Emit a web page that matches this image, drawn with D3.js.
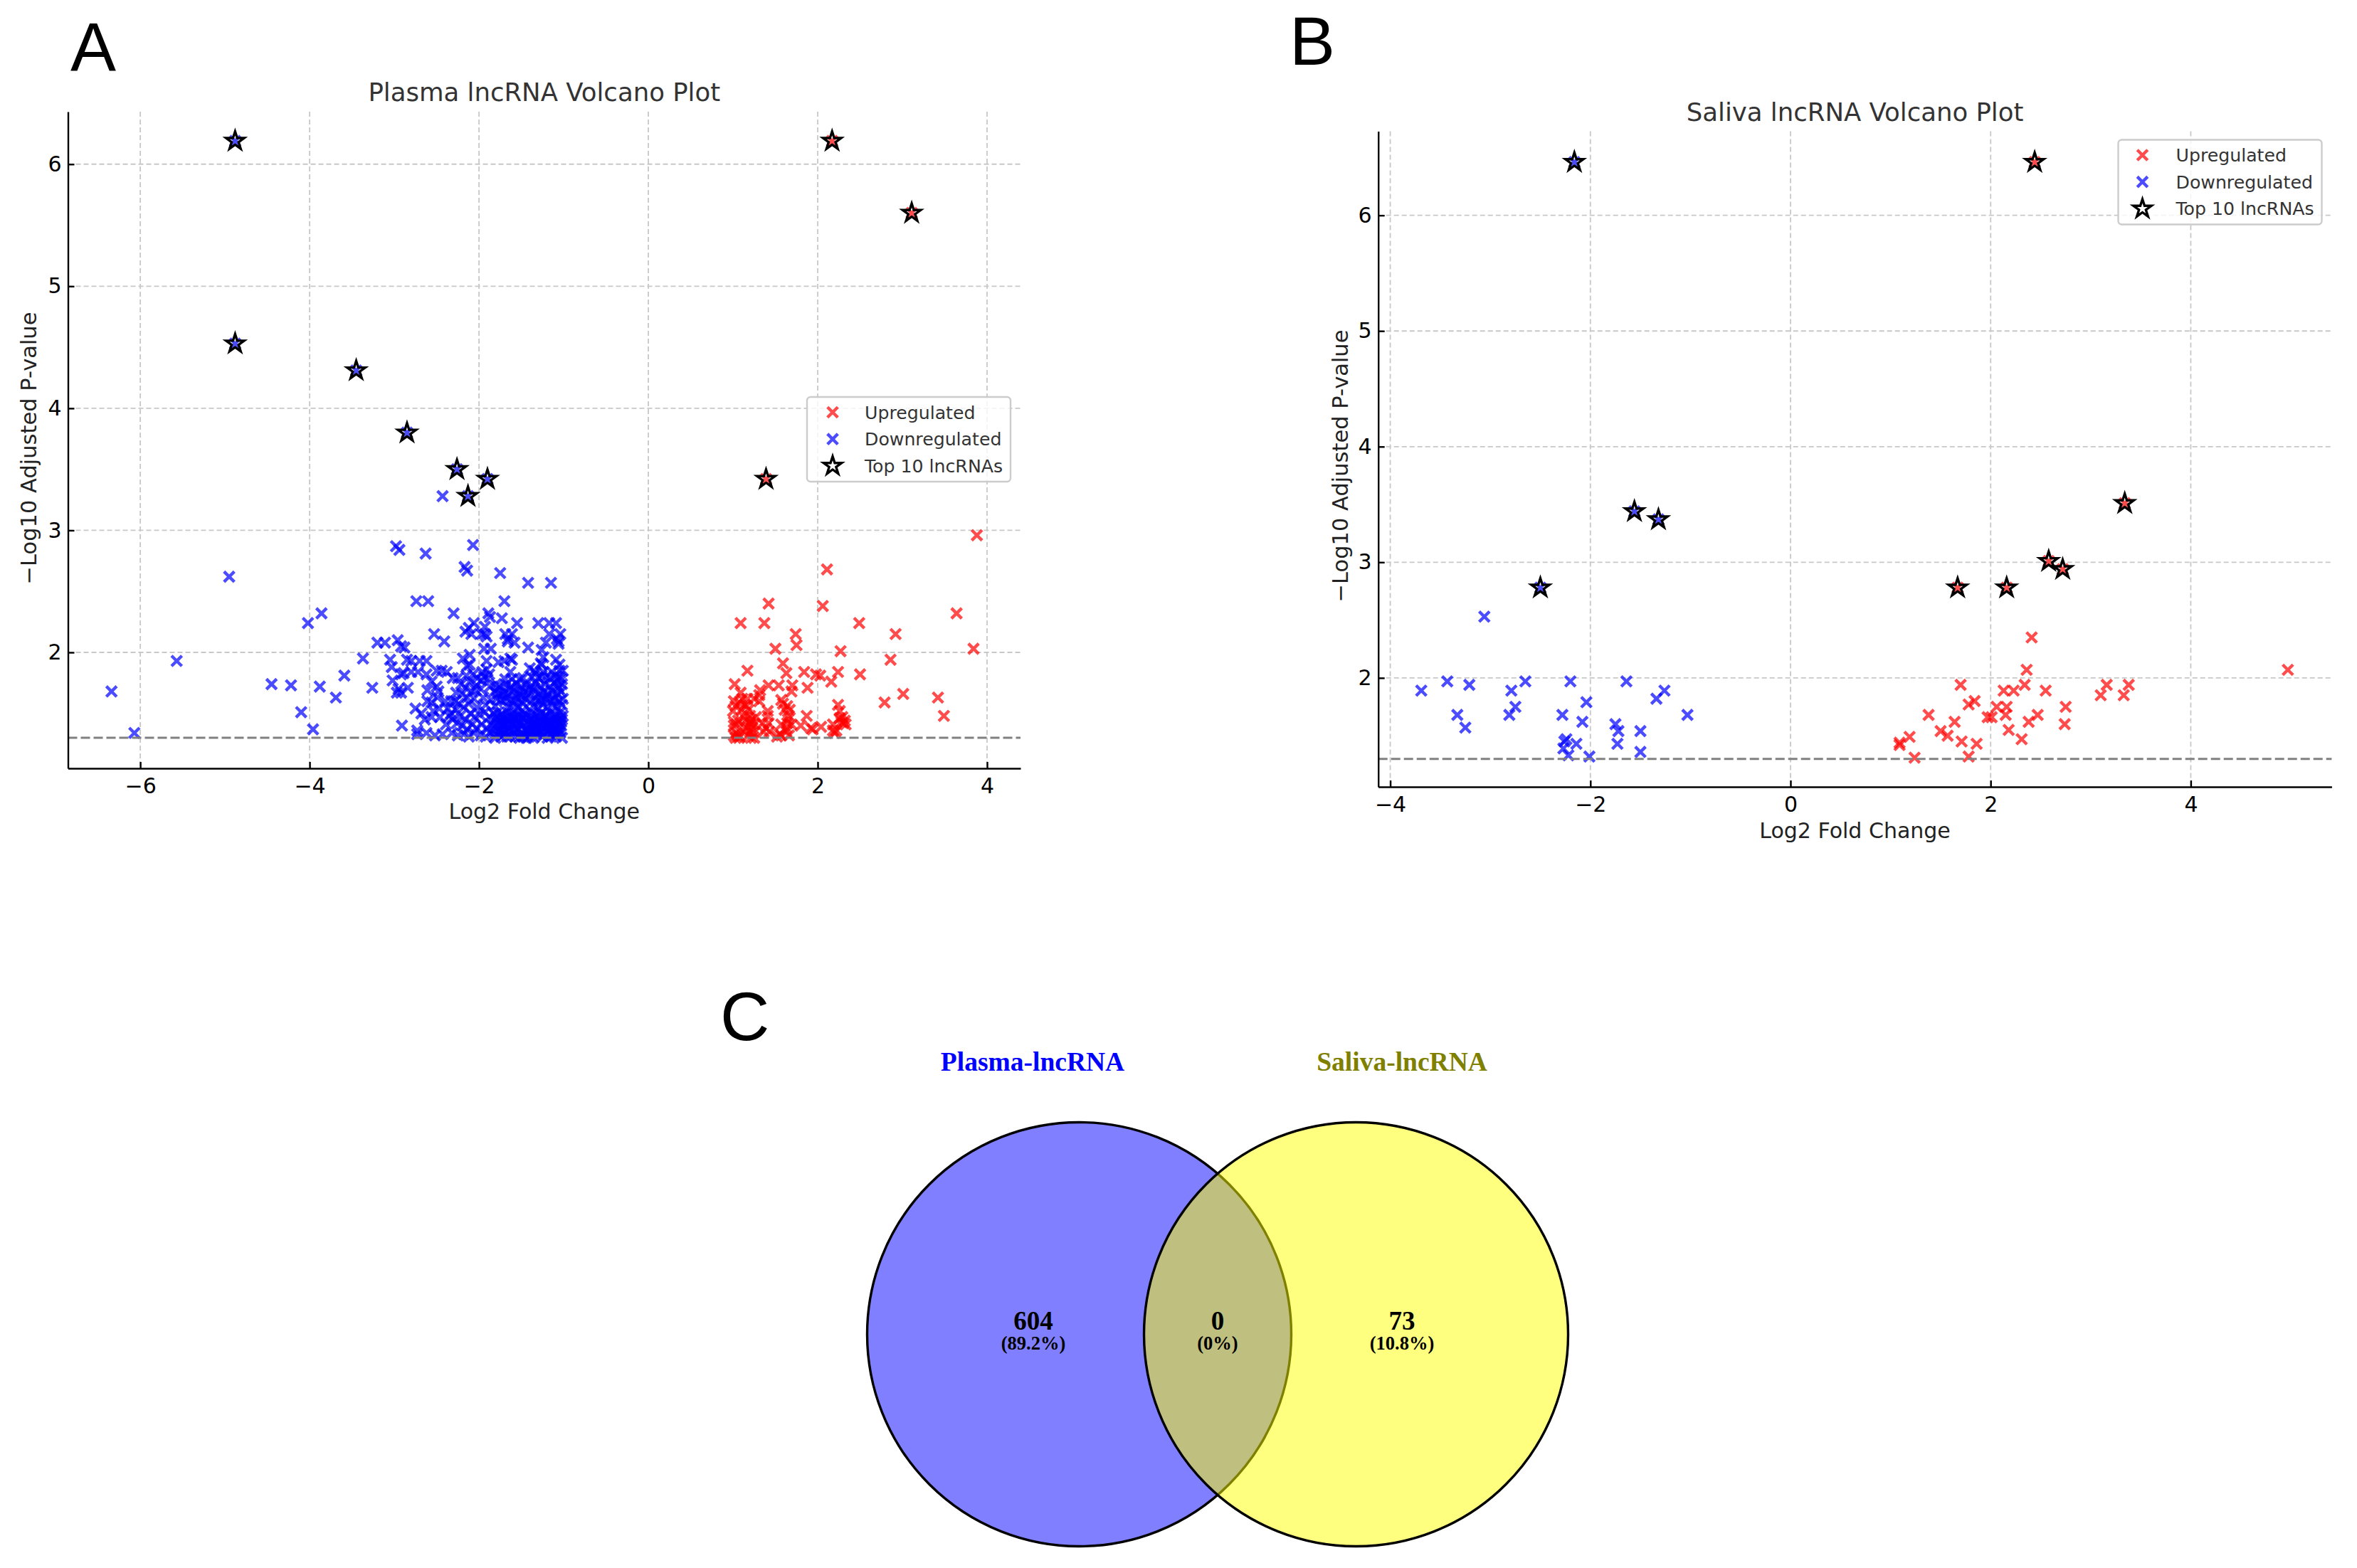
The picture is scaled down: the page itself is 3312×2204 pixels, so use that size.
<!DOCTYPE html>
<html>
<head>
<meta charset="utf-8">
<title>lncRNA volcano plots</title>
<script src="https://cdn.jsdelivr.net/npm/d3@7/dist/d3.min.js"></script>
<style>
body { margin: 0; background: #fff; }
svg { display: block; }
text { font-family: "DejaVu Sans", sans-serif; }
</style>
</head>
<body>
<svg id="fig" width="3312" height="2204"></svg>
<script>
/*globals d3*/

// [log2 fold change, -log10 adjusted p]
var plasmaUp = [
    [3.88, 2.96], [2.11, 2.68], [1.42, 2.40], [2.06, 2.38], [3.64, 2.32], [1.09, 2.24], [1.37, 2.24], [2.49, 2.24],
    [1.74, 2.15], [2.92, 2.15], [1.75, 2.06], [1.50, 2.03], [3.84, 2.03], [2.27, 2.01], [2.86, 1.94], [1.59, 1.91],
    [1.17, 1.85], [1.63, 1.83], [1.84, 1.84], [1.98, 1.82], [2.03, 1.81], [2.24, 1.84], [2.50, 1.82], [2.16, 1.76],
    [1.02, 1.74], [1.42, 1.73], [1.54, 1.73], [1.70, 1.73], [1.88, 1.71], [1.69, 1.68], [3.01, 1.66], [3.42, 1.63],
    [2.79, 1.59], [3.49, 1.48], [1.09, 1.67], [1.32, 1.69], [1.31, 1.65], [1.25, 1.62], [1.31, 1.60], [1.01, 1.60],
    [1.11, 1.62], [1.17, 1.62], [1.07, 1.59], [1.14, 1.57], [1.57, 1.61], [1.59, 1.58], [2.24, 1.57], [1.00, 1.52],
    [1.10, 1.53], [1.18, 1.53], [1.20, 1.48], [1.41, 1.52], [1.61, 1.53], [1.67, 1.53], [2.26, 1.52], [1.41, 1.48],
    [1.66, 1.48], [1.87, 1.48], [2.29, 1.47], [1.27, 1.47], [1.01, 1.43], [1.04, 1.41], [1.01, 1.40], [1.15, 1.44],
    [1.20, 1.43], [1.21, 1.41], [1.25, 1.41], [1.17, 1.39], [1.35, 1.42], [1.42, 1.42], [1.39, 1.38], [1.36, 1.35],
    [1.43, 1.35], [1.57, 1.41], [1.64, 1.42], [1.69, 1.41], [1.63, 1.38], [1.63, 1.35], [1.80, 1.40], [1.92, 1.38],
    [1.94, 1.37], [2.04, 1.39], [2.18, 1.41], [2.32, 1.44], [2.30, 1.42], [2.28, 1.43], [2.26, 1.46], [2.33, 1.41],
    [2.18, 1.36], [2.22, 1.36], [2.20, 1.34], [1.04, 1.34], [1.01, 1.32], [1.07, 1.30], [1.03, 1.30], [1.08, 1.31],
    [1.06, 1.32], [1.20, 1.35], [1.24, 1.34], [1.18, 1.32], [1.25, 1.30], [1.21, 1.30], [1.52, 1.31], [1.57, 1.32],
    [1.66, 1.32], [1.55, 1.33], [1.13, 1.47], [1.22, 1.45], [1.14, 1.38], [1.23, 1.38],
    [1.06, 1.44], [1.16, 1.56], [1.03, 1.56], [1.65, 1.45], [1.64, 1.56]
];
var plasmaDown = [
    // outliers on the left
    [-4.95, 2.62], [-5.57, 1.93], [-6.34, 1.68], [-6.07, 1.34], [-4.45, 1.74], [-4.22, 1.73], [-3.88, 1.72],
    [-4.02, 2.24], [-3.86, 2.32], [-3.59, 1.81], [-3.37, 1.95], [-3.26, 1.71], [-3.69, 1.63], [-4.10, 1.51],
    [-3.96, 1.37], [-2.91, 1.40],
    // upper scatter
    [-2.43, 3.28], [-2.98, 2.87], [-2.94, 2.84], [-2.63, 2.81], [-2.07, 2.88], [-2.17, 2.70], [-2.14, 2.67],
    [-1.75, 2.65], [-1.42, 2.57], [-1.15, 2.57], [-2.74, 2.42], [-2.60, 2.42], [-1.70, 2.42], [-2.30, 2.32],
    [-1.89, 2.32], [-1.87, 2.29], [-1.73, 2.28], [-1.55, 2.24], [-1.30, 2.24], [-1.17, 2.24], [-1.09, 2.24],
    [-2.06, 2.24], [-1.93, 2.21], [-2.12, 2.20], [-2.16, 2.17], [-2.09, 2.15], [-2.53, 2.15], [-1.93, 2.15],
    [-1.69, 2.15], [-1.61, 2.15], [-1.17, 2.15], [-1.04, 2.15], [-2.96, 2.10], [-2.41, 2.09], [-1.66, 2.11],
    [-1.08, 2.11], [-1.97, 2.15], [-1.91, 2.13], [-1.66, 2.09], [-1.58, 2.08], [-1.06, 2.09], [-1.06, 2.07],
    [-1.21, 2.08], [-1.26, 2.02], [-1.42, 2.04], [-1.94, 2.03], [-1.86, 2.03], [-2.11, 1.98],
    // left of the dense block
    [-3.20, 2.08], [-3.11, 2.08], [-2.92, 2.05], [-2.88, 2.04], [-3.05, 1.94], [-3.03, 1.88], [-2.85, 1.94],
    [-2.80, 1.93], [-2.70, 1.93], [-2.62, 1.93], [-2.92, 1.82], [-2.89, 1.83], [-2.80, 1.84], [-2.72, 1.84],
    [-2.62, 1.82], [-2.50, 1.85], [-2.44, 1.85], [-2.38, 1.84], [-3.02, 1.77], [-2.95, 1.70], [-2.92, 1.67],
    [-2.84, 1.71], [-2.97, 1.67], [-2.56, 1.76], [-2.61, 1.69], [-2.50, 1.72], [-2.48, 1.68], [-2.49, 1.63],
    [-2.61, 1.60], [-2.56, 1.59], [-2.75, 1.54], [-2.68, 1.50], [-2.64, 1.45], [-2.54, 1.52], [-2.47, 1.54],
    [-2.56, 1.47], [-2.46, 1.47], [-2.73, 1.36], [-2.73, 1.33], [-2.62, 1.34], [-2.52, 1.32], [-2.43, 1.33],
    [-2.35, 1.48], [-2.33, 1.50], [-2.39, 1.41], [-2.31, 1.45], [-2.32, 1.34], [-2.25, 1.32], [-2.33, 1.60],
    [-2.28, 1.60], [-2.27, 1.67], [-2.25, 1.79], [-2.31, 1.79], [-2.19, 1.95], [-2.14, 1.89], [-2.15, 1.81],
    [-2.40, 1.60], [-2.37, 1.54],
    // x from -2.25 to -1.85
    [-2.21, 1.74], [-2.16, 1.71], [-2.11, 1.76], [-2.07, 1.82], [-2.02, 1.79], [-1.96, 1.84], [-1.91, 1.86],
    [-1.88, 1.82], [-1.94, 1.80], [-1.90, 1.78], [-2.20, 1.66], [-2.14, 1.63], [-2.09, 1.68], [-2.03, 1.73],
    [-1.98, 1.70], [-1.95, 1.63], [-1.87, 1.72], [-2.24, 1.58], [-2.18, 1.55], [-2.12, 1.58], [-2.06, 1.62],
    [-2.02, 1.55], [-1.92, 1.57], [-1.86, 1.61], [-2.22, 1.48], [-2.16, 1.45], [-2.10, 1.50], [-2.05, 1.47],
    [-1.99, 1.49], [-1.93, 1.51], [-1.88, 1.47], [-2.20, 1.40], [-2.14, 1.37], [-2.08, 1.41], [-2.03, 1.38],
    [-1.97, 1.41], [-1.91, 1.38], [-1.86, 1.41], [-2.18, 1.33], [-2.12, 1.31], [-2.06, 1.34], [-1.98, 1.32],
    [-1.92, 1.31], [-1.87, 1.34], [-2.27, 1.53], [-2.26, 1.42], [-2.04, 1.69], [-1.97, 1.77],
    // above the block
    [-1.91, 1.93], [-1.77, 1.92], [-1.70, 1.93], [-1.63, 1.95], [-1.61, 1.94], [-1.24, 1.96], [-1.27, 1.91],
    [-1.26, 1.90], [-1.09, 1.94], [-1.05, 1.90], [-2.11, 1.90], [-1.63, 1.84], [-1.40, 1.87], [-1.35, 1.85],
    [-1.24, 1.84], [-1.14, 1.84], [-1.05, 1.85], [-1.01, 1.85], [-1.69, 1.78], [-1.61, 1.78], [-1.52, 1.78],
    [-1.48, 1.79], [-1.38, 1.80], [-1.30, 1.79], [-1.26, 1.81], [-1.21, 1.80], [-1.16, 1.79], [-1.10, 1.81],
    [-1.05, 1.80], [-1.02, 1.78], [-1.33, 1.83], [-1.08, 1.77],
    // block y 1.53 to 1.76
    [-1.80, 1.74], [-1.75, 1.72], [-1.68, 1.74], [-1.62, 1.72], [-1.56, 1.75], [-1.50, 1.72], [-1.44, 1.74],
    [-1.39, 1.72], [-1.33, 1.75], [-1.27, 1.72], [-1.22, 1.74], [-1.16, 1.72], [-1.11, 1.75], [-1.06, 1.72],
    [-1.02, 1.74], [-1.82, 1.68], [-1.77, 1.66], [-1.71, 1.68], [-1.65, 1.66], [-1.59, 1.69], [-1.53, 1.66],
    [-1.47, 1.68], [-1.42, 1.66], [-1.36, 1.69], [-1.30, 1.66], [-1.24, 1.68], [-1.19, 1.66], [-1.14, 1.69],
    [-1.08, 1.66], [-1.03, 1.68], [-1.79, 1.62], [-1.74, 1.61], [-1.68, 1.63], [-1.62, 1.61], [-1.56, 1.63],
    [-1.50, 1.60], [-1.45, 1.62], [-1.38, 1.60], [-1.33, 1.63], [-1.27, 1.60], [-1.21, 1.62], [-1.16, 1.60],
    [-1.10, 1.63], [-1.05, 1.60], [-1.01, 1.62], [-1.81, 1.56], [-1.66, 1.55], [-1.60, 1.57], [-1.54, 1.55],
    [-1.48, 1.58], [-1.36, 1.56], [-1.30, 1.54], [-1.25, 1.57], [-1.19, 1.55], [-1.13, 1.57], [-1.07, 1.55],
    [-1.02, 1.57],
    [-1.78, 1.70], [-1.64, 1.70], [-1.49, 1.64], [-1.35, 1.71], [-1.20, 1.64], [-1.06, 1.70], [-1.73, 1.65],
    [-1.58, 1.60], [-1.41, 1.70], [-1.26, 1.63], [-1.12, 1.61], [-1.70, 1.60], [-1.52, 1.69], [-1.32, 1.60],
    // block y 1.30 to 1.52
    [-1.83, 1.50], [-1.78, 1.51], [-1.72, 1.49], [-1.66, 1.51], [-1.61, 1.49], [-1.55, 1.50], [-1.49, 1.52],
    [-1.44, 1.49], [-1.38, 1.51], [-1.33, 1.49], [-1.27, 1.50], [-1.21, 1.49], [-1.16, 1.51], [-1.10, 1.49],
    [-1.04, 1.51], [-1.01, 1.48], [-1.81, 1.45], [-1.75, 1.44], [-1.70, 1.46], [-1.64, 1.44], [-1.58, 1.46],
    [-1.52, 1.44], [-1.47, 1.46], [-1.41, 1.44], [-1.35, 1.46], [-1.30, 1.44], [-1.24, 1.46], [-1.18, 1.44],
    [-1.13, 1.46], [-1.07, 1.44], [-1.02, 1.45], [-1.83, 1.40], [-1.77, 1.38], [-1.72, 1.40], [-1.66, 1.38],
    [-1.61, 1.41], [-1.55, 1.38], [-1.50, 1.40], [-1.44, 1.38], [-1.39, 1.41], [-1.33, 1.38], [-1.28, 1.40],
    [-1.22, 1.38], [-1.17, 1.40], [-1.12, 1.41], [-1.07, 1.38], [-1.03, 1.40], [-1.80, 1.33], [-1.74, 1.31],
    [-1.69, 1.34], [-1.63, 1.31], [-1.58, 1.34], [-1.52, 1.30], [-1.47, 1.33], [-1.41, 1.31], [-1.36, 1.30],
    [-1.30, 1.34], [-1.25, 1.31], [-1.19, 1.30], [-1.14, 1.33], [-1.09, 1.31], [-1.04, 1.34], [-1.02, 1.30],
    [-1.79, 1.47], [-1.69, 1.42], [-1.59, 1.36], [-1.49, 1.47], [-1.39, 1.36], [-1.29, 1.47], [-1.19, 1.36],
    [-1.09, 1.47], [-1.76, 1.35], [-1.66, 1.47], [-1.56, 1.42], [-1.46, 1.36], [-1.36, 1.42], [-1.26, 1.36],
    [-1.16, 1.42], [-1.06, 1.36], [-1.73, 1.43], [-1.63, 1.36], [-1.53, 1.48], [-1.43, 1.42], [-1.33, 1.33],
    [-1.23, 1.42], [-1.13, 1.35], [-1.03, 1.43], [-1.71, 1.33], [-1.60, 1.45], [-1.50, 1.33], [-1.40, 1.47],
    [-1.31, 1.37], [-1.20, 1.47], [-1.11, 1.33], [-1.04, 1.37],
    [-1.82, 1.35], [-1.78, 1.42], [-1.75, 1.48], [-1.68, 1.36], [-1.65, 1.41], [-1.62, 1.47], [-1.57, 1.31],
    [-1.54, 1.37], [-1.51, 1.42], [-1.46, 1.50], [-1.44, 1.30], [-1.42, 1.35], [-1.38, 1.45], [-1.34, 1.41],
    [-1.28, 1.33], [-1.25, 1.39], [-1.22, 1.48], [-1.19, 1.43], [-1.15, 1.31], [-1.12, 1.37], [-1.10, 1.44],
    [-1.06, 1.41], [-1.04, 1.47], [-1.81, 1.30], [-1.72, 1.36], [-1.67, 1.31], [-1.55, 1.46], [-1.48, 1.31],
    [-1.35, 1.35], [-1.27, 1.43], [-1.17, 1.36], [-1.08, 1.34]
];
var plasmaTop = [
    [-4.88, 6.19], [2.17, 6.19], [3.11, 5.60], [-4.88, 4.53], [-3.45, 4.31],
    [-2.85, 3.80], [-2.26, 3.50], [-1.90, 3.42], [-2.13, 3.28], [1.39, 3.42]
];
var plasmaTopUp = [2.17, 3.11, 1.39];

var salivaUp = [
    [4.97, 2.07], [2.41, 2.35], [2.36, 2.07], [1.70, 1.94], [2.34, 1.94], [2.13, 1.89], [2.23, 1.89], [2.55, 1.89],
    [3.16, 1.94], [3.38, 1.94], [3.10, 1.85], [3.33, 1.85], [1.84, 1.80], [1.78, 1.77], [2.06, 1.75], [2.16, 1.75],
    [2.75, 1.75], [2.15, 1.68], [2.47, 1.68], [1.38, 1.68], [1.97, 1.66], [2.01, 1.66], [1.64, 1.62], [2.38, 1.62],
    [2.74, 1.60], [2.18, 1.55], [1.50, 1.54], [1.57, 1.50], [1.19, 1.49], [1.09, 1.44], [1.09, 1.42], [1.71, 1.45],
    [1.86, 1.43], [2.31, 1.47], [1.24, 1.31], [1.78, 1.32]
];
var salivaDown = [
    [-3.69, 1.89], [-3.43, 1.97], [-3.21, 1.94], [-3.06, 2.53], [-3.33, 1.68], [-3.25, 1.57], [-2.79, 1.89],
    [-2.65, 1.97], [-2.75, 1.75], [-2.81, 1.68], [-2.28, 1.68], [-2.20, 1.97], [-2.04, 1.79], [-2.08, 1.62],
    [-2.24, 1.47], [-2.14, 1.43], [-2.27, 1.39], [-2.22, 1.33], [-2.01, 1.32], [-1.64, 1.97], [-1.26, 1.89],
    [-1.34, 1.82], [-1.03, 1.68], [-1.75, 1.60], [-1.72, 1.54], [-1.73, 1.43], [-1.50, 1.54], [-1.50, 1.36],
    [-2.26, 1.45]
];
var salivaTop = [
    [-2.16, 6.46], [2.44, 6.46], [-2.50, 2.78], [-1.56, 3.44], [-1.32, 3.37],
    [1.67, 2.78], [2.16, 2.78], [2.58, 3.01], [2.72, 2.94], [3.34, 3.51]
];
var salivaTopUp = [2.44, 1.67, 2.16, 2.58, 2.72, 3.34];

var xTicksPlasma = [-6, -4, -2, 0, 2, 4];
var xTicksSaliva = [-4, -2, 0, 2, 4];
var yTicksVolcano = [2, 3, 4, 5, 6];
var legendLabels = ["Upregulated", "Downregulated", "Top 10 lncRNAs"];
var pThreshold = 1.3;

var vennLabels = ["Plasma-lncRNA", "Saliva-lncRNA"];
var vennCounts = ["604", "0", "73"];
var vennPercents = ["(89.2%)", "(0%)", "(10.8%)"];

var RED = "#ff0000", BLUE = "#0000ff", X_ALPHA = 0.7;
var svg = d3.select("#fig");
var xMark = d3.symbol().type(d3.symbolX).size(140)();
var starMark = d3.symbol().type(d3.symbolStar).size(200)();

function volcano(spec) {
    "use strict";

    var g, x, y, xAxis, yAxis, legend;

    x = d3.scaleLinear().domain(spec.xDomain).range([spec.left, spec.right]);
    y = d3.scaleLinear().domain(spec.yDomain).range([spec.bottom, spec.top]);
    g = svg.append("g");

    // grid
    g.append("g").selectAll("line").data(spec.xTicks).enter().append("line")
        .attr("x1", function (d) { return x(d); })
        .attr("x2", function (d) { return x(d); })
        .attr("y1", spec.top)
        .attr("y2", spec.bottom);
    g.append("g").selectAll("line").data(yTicksVolcano).enter().append("line")
        .attr("x1", spec.left)
        .attr("x2", spec.right)
        .attr("y1", function (d) { return y(d); })
        .attr("y2", function (d) { return y(d); });
    g.selectAll("g line")
        .attr("stroke", "#c8c8c8")
        .attr("stroke-width", 1.8)
        .attr("stroke-dasharray", "7,4");

    function crosses(data, colour) {
        g.append("g").selectAll("path").data(data).enter().append("path")
            .attr("d", xMark)
            .attr("transform", function (d) { return "translate(" + x(d[0]) + "," + y(d[1]) + ")"; })
            .attr("fill", "none")
            .attr("stroke", colour)
            .attr("stroke-opacity", X_ALPHA)
            .attr("stroke-width", 4.4);
    }

    crosses(spec.up, RED);
    crosses(spec.down, BLUE);
    crosses(spec.top10.filter(function (d) { return spec.topUp.indexOf(d[0]) >= 0; }), RED);
    crosses(spec.top10.filter(function (d) { return spec.topUp.indexOf(d[0]) < 0; }), BLUE);

    g.append("g").selectAll("path").data(spec.top10).enter().append("path")
        .attr("d", starMark)
        .attr("transform", function (d) { return "translate(" + x(d[0]) + "," + y(d[1]) + ")"; })
        .attr("fill", "none")
        .attr("stroke", "#000")
        .attr("stroke-width", 3.4);

    g.append("line")
        .attr("x1", spec.left)
        .attr("x2", spec.right)
        .attr("y1", y(pThreshold))
        .attr("y2", y(pThreshold))
        .attr("stroke", "#808080")
        .attr("stroke-width", 3)
        .attr("stroke-dasharray", "13,5");

    // axes, ticks point inwards
    xAxis = g.append("g")
        .attr("transform", "translate(0," + spec.bottom + ")")
        .call(d3.axisBottom(x).tickValues(spec.xTicks).tickFormat(d3.format("d")).tickSizeInner(-9).tickSizeOuter(0).tickPadding(14));
    yAxis = g.append("g")
        .attr("transform", "translate(" + spec.left + ",0)")
        .call(d3.axisLeft(y).tickValues(yTicksVolcano).tickFormat(d3.format("d")).tickSizeInner(-9).tickSizeOuter(0).tickPadding(9));
    [xAxis, yAxis].forEach(function (a) {
        a.selectAll("path, line").attr("stroke", "#000").attr("stroke-width", 2.4);
        a.selectAll("text").attr("fill", "#000").style("font-size", "30px").style("font-family", "'DejaVu Sans', sans-serif");
    });

    g.append("text")
        .attr("x", (spec.left + spec.right) / 2)
        .attr("y", spec.titleY)
        .attr("text-anchor", "middle")
        .attr("fill", "#333")
        .style("font-size", "35.5px")
        .text(spec.title);
    g.append("text")
        .attr("x", (spec.left + spec.right) / 2)
        .attr("y", spec.xLabelY)
        .attr("text-anchor", "middle")
        .attr("fill", "#222")
        .style("font-size", "30px")
        .text("Log2 Fold Change");
    g.append("text")
        .attr("transform", "translate(" + spec.yLabelX + "," + spec.yLabelY + ") rotate(-90)")
        .attr("text-anchor", "middle")
        .attr("fill", "#222")
        .style("font-size", "30.5px")
        .text("\u2212Log10 Adjusted P-value");

    // legend
    legend = g.append("g").attr("transform", "translate(" + spec.legend[0] + "," + spec.legend[1] + ")");
    legend.append("rect")
        .attr("width", spec.legend[2])
        .attr("height", spec.legend[3])
        .attr("rx", 5)
        .attr("fill", "#fff")
        .attr("fill-opacity", 0.8)
        .attr("stroke", "#ccc")
        .attr("stroke-width", 2.4);
    legendLabels.forEach(function (label, i) {
        var row = legend.append("g").attr("transform", "translate(" + spec.legendMark + "," + (21.5 + i * 37.7) + ")");
        row.append("path")
            .attr("d", i === 2 ? starMark : xMark)
            .attr("fill", i === 2 ? "#fff" : "none")
            .attr("stroke", i === 2 ? "#000" : (i === 0 ? RED : BLUE))
            .attr("stroke-opacity", i === 2 ? 1 : X_ALPHA)
            .attr("stroke-width", i === 2 ? 3.4 : 4.4);
        row.append("text")
            .attr("x", spec.legendText)
            .attr("y", 9)
            .attr("fill", "#333")
            .style("font-size", "25.2px")
            .text(label);
    });
}

function venn() {
    "use strict";

    var r = 298, cy = 1875.5, centres = [1516.5, 1905.5], textX = [1452, 1711, 1970], g;

    g = svg.append("g");
    g.selectAll("circle.fill").data(centres).enter().append("circle")
        .attr("cx", function (d) { return d; })
        .attr("cy", cy)
        .attr("r", r)
        .attr("fill", function (d, i) { return i === 0 ? BLUE : "#ffff00"; })
        .attr("fill-opacity", 0.5)
        .attr("stroke", "#000")
        .attr("stroke-width", 3.4);

    function serif(sel, size) {
        sel.attr("text-anchor", "middle")
            .style("font-family", "'Liberation Serif', serif")
            .style("font-weight", "bold")
            .style("font-size", size + "px");
        return sel;
    }

    serif(g.selectAll("text.count").data(vennCounts).enter().append("text"), 37)
        .attr("x", function (d, i) { return textX[i]; })
        .attr("y", 1869)
        .text(function (d) { return d; });
    serif(g.selectAll("text.pct").data(vennPercents).enter().append("text"), 26.5)
        .attr("x", function (d, i) { return textX[i]; })
        .attr("y", 1897)
        .text(function (d) { return d; });
    serif(g.selectAll("text.set").data(vennLabels).enter().append("text"), 37.5)
        .attr("x", function (d, i) { return [1451, 1970][i]; })
        .attr("y", 1505)
        .attr("fill", function (d, i) { return i === 0 ? BLUE : "#808000"; })
        .text(function (d) { return d; });
}

function panelLetter(letter, px, py) {
    "use strict";

    svg.append("text")
        .attr("x", px)
        .attr("y", py)
        .attr("fill", "#000")
        .style("font-family", "'Liberation Sans', sans-serif")
        .style("font-size", "96px")
        .text(letter);
}

volcano({
    title: "Plasma lncRNA Volcano Plot",
    up: plasmaUp, down: plasmaDown, top10: plasmaTop, topUp: plasmaTopUp,
    xTicks: xTicksPlasma,
    xDomain: [-6.854, 4.395], yDomain: [1.05, 6.43],
    left: 95.5, right: 1434, top: 157, bottom: 1080,
    titleY: 142, xLabelY: 1151, yLabelX: 51, yLabelY: 630,
    legend: [1134, 558, 286, 119], legendMark: 36, legendText: 45
});
volcano({
    title: "Saliva lncRNA Volcano Plot",
    up: salivaUp, down: salivaDown, top10: salivaTop, topUp: salivaTopUp,
    xTicks: xTicksSaliva,
    xDomain: [-4.12, 5.408], yDomain: [1.058, 6.727],
    left: 1936.7, right: 3276.4, top: 184.5, bottom: 1106,
    titleY: 170, xLabelY: 1178, yLabelX: 1894, yLabelY: 655,
    legend: [2976.5, 196.5, 286, 119], legendMark: 34, legendText: 47
});
venn();
panelLetter("A", 99, 99);
panelLetter("B", 1812, 91);
panelLetter("C", 1012, 1462);
</script>
</body>
</html>
